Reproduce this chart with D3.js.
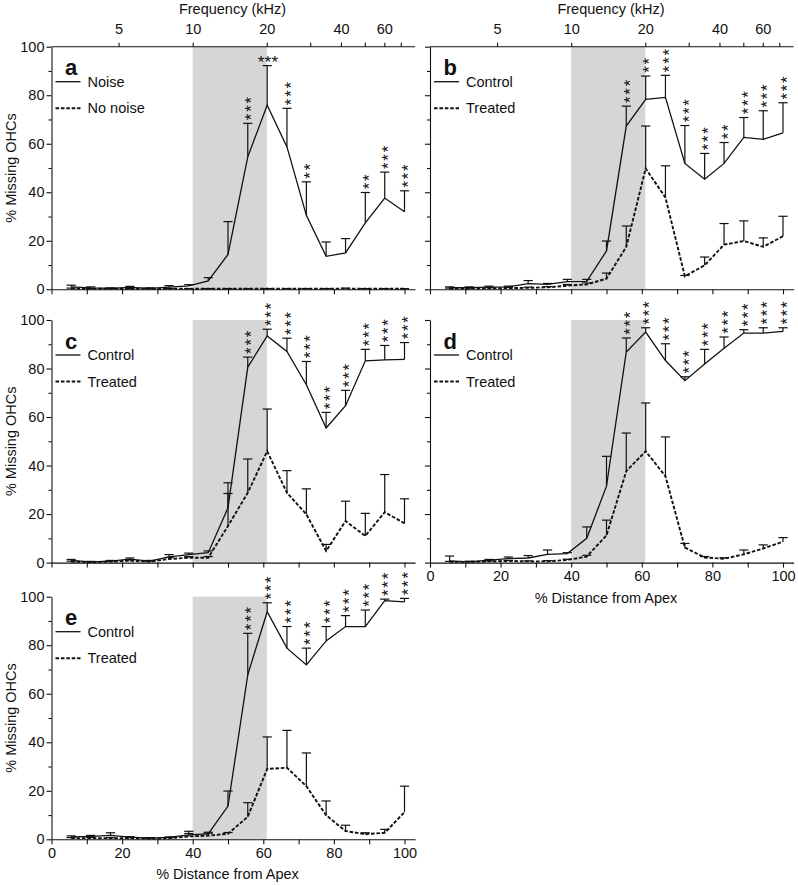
<!DOCTYPE html>
<html><head><meta charset="utf-8">
<script src="https://cdn.jsdelivr.net/npm/d3@7"></script>
<style>
body{margin:0;background:#fff}
svg{display:block}
text{font-family:"Liberation Sans",Arial,Helvetica,sans-serif;fill:#111}
</style>
</head><body><svg id="chart" width="798" height="886"></svg>
<script>
// ---------------- data ----------------
const distance = [5.56, 11.1, 16.7, 22.2, 27.8, 33.3, 38.9, 44.4, 50, 55.6, 61.1, 66.7, 72.2, 77.8, 83.3, 88.9, 94.4, 100];
const distTicks = [0, 10, 20, 30, 40, 50, 60, 70, 80, 90, 100];
const yMajorTicks = [0, 20, 40, 60, 80, 100];
const yMinorTicks = [10, 30, 50, 70, 90];
const freqTicks = [5, 10, 20, 30, 40, 50, 60, 70];
const freqLabels = ["5", "10", "20", "", "40", "", "60", ""];
const noiseBandKHz = [10, 20];
const freqAnchorKHz = [10, 20];        // known place-frequency points
const freqAnchorDist = [40, 61];       // % distance from apex at those points

// panel a
const aNoise      = [1.0, 0.6, 0.4, 0.8, 0.4, 0.9, 1.4, 3.5, 14.4, 54.6, 75.9, 58.7, 30.5, 13.6, 15.0, 27.4, 37.6, 32.0];
const aNoiseSem   = [0.7, 0.4, 0.2, 0.4, 0.2, 0.6, 0.5, 1.3, 13.5, 13.8, 16.3, 15.9, 13.8, 5.9, 5.9, 12.5, 10.7, 8.6];
const aNoNoise    = [0.3, 0.2, 0.2, 0.2, 0.2, 0.2, 0.2, 0.2, 0.2, 0.2, 0.2, 0.2, 0.2, 0.2, 0.3, 0.2, 0.2, 0.2];
const aNoNoiseSem = [0.2, 0.1, 0.1, 0.1, 0.1, 0.1, 0.1, 0.1, 0.1, 0.1, 0.1, 0.1, 0.1, 0.1, 0.2, 0.1, 0.1, 0.1];
const aStars      = [0, 0, 0, 0, 0, 0, 0, 0, 0, 3, 3, 3, 2, 0, 0, 2, 3, 3];
const aStarsRow   = [10];   // index whose stars are written in a row

// panel b
const bControl    = [0.7, 0.7, 0.9, 1.0, 2.3, 2.0, 3.2, 3.3, 15.8, 67.3, 78.3, 79.1, 51.9, 45.4, 51.9, 62.6, 61.8, 64.5];
const bControlSem = [0.3, 0.3, 0.4, 0.3, 1.3, 0.4, 0.9, 0.8, 4.1, 8.2, 9.6, 9.1, 15.6, 10.6, 8.6, 8.2, 11.8, 12.4];
const bTreated    = [0.3, 0.3, 0.4, 0.5, 0.6, 0.8, 1.5, 2.0, 4.4, 17.5, 49.8, 37.8, 5.4, 9.9, 18.4, 19.9, 17.5, 21.9];
const bTreatedSem = [0.2, 0.2, 0.3, 0.3, 0.3, 0.3, 0.5, 0.6, 2.3, 8.6, 17.5, 13.1, 0.3, 3.4, 8.7, 8.3, 3.7, 8.2];
const bStars      = [0, 0, 0, 0, 0, 0, 0, 0, 0, 3, 2, 3, 3, 3, 2, 3, 3, 3];

// panel c
const cControl    = [0.9, 0.3, 0.6, 1.4, 0.6, 2.4, 3.3, 4.1, 22.6, 80.6, 93.4, 87.0, 73.3, 55.5, 64.7, 83.2, 83.6, 83.8];
const cControlSem = [0.4, 0.2, 0.3, 0.5, 0.3, 0.9, 0.6, 0.7, 10.3, 4.1, 2.8, 5.5, 9.6, 6.4, 6.3, 4.7, 5.9, 6.9];
const cTreated    = [0.4, 0.2, 0.4, 0.8, 0.4, 1.5, 2.0, 2.0, 15.1, 28.8, 45.9, 28.8, 19.9, 4.8, 17.1, 11.0, 20.8, 16.2];
const cTreatedSem = [0.2, 0.2, 0.3, 0.4, 0.2, 0.6, 0.5, 0.5, 13.4, 13.9, 17.4, 9.1, 10.5, 2.7, 8.2, 9.3, 15.5, 10.1];
const cStars      = [0, 0, 0, 0, 0, 0, 0, 0, 0, 3, 3, 3, 3, 3, 3, 3, 3, 3];

// panel d
const dControl    = [0.7, 0.3, 1.0, 1.6, 1.9, 3.4, 3.7, 10.0, 31.5, 86.8, 95.0, 83.3, 75.0, 81.9, 88.4, 94.6, 94.6, 95.3];
const dControlSem = [2.0, 0.2, 0.3, 0.7, 1.0, 1.8, 0.4, 4.7, 12.3, 5.8, 1.8, 6.9, 1.6, 6.0, 4.6, 1.4, 2.2, 1.5];
const dTreated    = [0.3, 0.3, 0.5, 0.7, 0.5, 0.5, 1.1, 2.5, 11.2, 37.7, 45.9, 35.6, 6.2, 2.1, 1.6, 3.4, 5.8, 8.6];
const dTreatedSem = [0.2, 0.2, 0.2, 0.2, 0.2, 0.3, 0.3, 0.5, 6.3, 15.7, 19.9, 16.2, 1.7, 0.4, 0.4, 1.8, 1.5, 1.7];
const dStars      = [0, 0, 0, 0, 0, 0, 0, 0, 0, 3, 3, 3, 3, 3, 3, 3, 3, 3];

// panel e
const eControl    = [1.0, 1.2, 1.6, 0.9, 0.5, 0.8, 1.8, 2.2, 13.7, 67.8, 93.8, 78.8, 71.9, 81.8, 87.7, 87.7, 98.4, 97.9];
const eControlSem = [0.4, 0.4, 1.1, 0.2, 0.2, 0.2, 1.5, 0.7, 6.2, 17.1, 3.7, 8.9, 6.9, 5.9, 4.5, 6.8, 0.6, 1.4];
const eTreated    = [0.5, 0.5, 0.5, 0.5, 0.3, 0.4, 1.2, 1.5, 2.3, 9.3, 29.0, 29.5, 21.9, 9.9, 3.4, 2.1, 2.7, 11.2];
const eTreatedSem = [0.2, 0.3, 0.2, 0.2, 0.2, 0.3, 1.2, 1.0, 0.5, 5.8, 13.2, 15.4, 13.7, 5.9, 2.4, 0.6, 1.4, 10.7];
const eStars      = [0, 0, 0, 0, 0, 0, 0, 0, 0, 3, 3, 3, 3, 3, 3, 3, 3, 3];

// ---------------- layout ----------------
const svg = d3.select("#chart");
const FONT = 14.5;
const PXU = 3.53;         // pixels per % distance
const XMAX = 103;
const H = 242.6;
const STAR_FS = 17;
const STAR_STEP = 8.3;
const STAR_ADV = 0.389 * STAR_FS;
const STAR_LS = STAR_STEP - STAR_ADV;

const panels = [
  {id:"a", x0:51.5, top:46.7, s1:{name:"Noise", v:aNoise, e:aNoiseSem, stars:aStars, row:aStarsRow},
   s2:{name:"No noise", v:aNoNoise, e:aNoNoiseSem}, yLab:true, xLab:false, freq:true, yTitle:true},
  {id:"b", x0:430, top:46.7, s1:{name:"Control", v:bControl, e:bControlSem, stars:bStars, row:[]},
   s2:{name:"Treated", v:bTreated, e:bTreatedSem}, yLab:false, xLab:false, freq:true, yTitle:false},
  {id:"c", x0:51.5, top:320, s1:{name:"Control", v:cControl, e:cControlSem, stars:cStars, row:[]},
   s2:{name:"Treated", v:cTreated, e:cTreatedSem}, yLab:true, xLab:false, freq:false, yTitle:true},
  {id:"d", x0:430, top:320, s1:{name:"Control", v:dControl, e:dControlSem, stars:dStars, row:[]},
   s2:{name:"Treated", v:dTreated, e:dTreatedSem}, yLab:false, xLab:true, freq:false, yTitle:false},
  {id:"e", x0:51.5, top:596.7, s1:{name:"Control", v:eControl, e:eControlSem, stars:eStars, row:[]},
   s2:{name:"Treated", v:eTreated, e:eTreatedSem}, yLab:true, xLab:true, freq:false, yTitle:true}
];

function styleAxis(g){
  g.attr("font-size", FONT).attr("font-family", '"Liberation Sans",Arial,Helvetica,sans-serif');
  g.selectAll("line").attr("stroke", "#111").attr("stroke-width", 1.1);
  g.selectAll("path").attr("stroke", "#111").attr("stroke-width", 1.1);
  g.selectAll("text").attr("fill", "#111");
}

panels.forEach(p => {
  const x = d3.scaleLinear().domain([0, XMAX]).range([p.x0, p.x0 + XMAX * PXU]);
  const y = d3.scaleLinear().domain([0, 100]).range([p.top + H, p.top]);
  const fToDist = d3.scaleLog().domain(freqAnchorKHz).range(freqAnchorDist);
  const g = svg.append("g");

  // noise band shading
  g.append("rect")
    .attr("x", x(fToDist(noiseBandKHz[0])))
    .attr("y", y(100))
    .attr("width", x(fToDist(noiseBandKHz[1])) - x(fToDist(noiseBandKHz[0])))
    .attr("height", y(0) - y(100))
    .attr("fill", "#d6d6d6");

  const data1 = distance.map((d, i) => ({d, v: p.s1.v[i], e: p.s1.e[i], s: p.s1.stars[i], i}));
  const data2 = distance.map((d, i) => ({d, v: p.s2.v[i], e: p.s2.e[i], i}));

  const line = d3.line().x(d => x(d.d)).y(d => y(d.v));

  // error bars (upward) for both series
  [data2, data1].forEach(data => {
    const eb = g.append("g").attr("stroke", "#111").attr("stroke-width", 1.2).attr("fill", "none");
    eb.selectAll("line.v").data(data).join("line")
      .attr("x1", d => x(d.d)).attr("x2", d => x(d.d))
      .attr("y1", d => y(d.v)).attr("y2", d => y(d.v + d.e));
    eb.selectAll("line.c").data(data).join("line")
      .attr("x1", d => x(d.d) - 4.6).attr("x2", d => x(d.d) + 4.6)
      .attr("y1", d => y(d.v + d.e)).attr("y2", d => y(d.v + d.e));
  });

  g.append("path").datum(data2).attr("d", line)
    .attr("fill", "none").attr("stroke", "#111").attr("stroke-width", 1.9)
    .attr("stroke-dasharray", "3.6,1.8");
  g.append("path").datum(data1).attr("d", line)
    .attr("fill", "none").attr("stroke", "#111").attr("stroke-width", 1.3);

  // significance stars
  data1.filter(d => d.s > 0).forEach(d => {
    const cx = x(d.d), capY = y(d.v + d.e);
    const starText = "*".repeat(d.s);
    if (p.s1.row.includes(d.i)) {
      const cy = capY - 7;
      g.append("text").attr("x", cx + STAR_LS / 2).attr("y", cy + 0.57 * STAR_FS)
        .attr("text-anchor", "middle").attr("font-size", STAR_FS)
        .attr("letter-spacing", (STAR_LS - 1.5) + "px")
        .text(starText);
    } else {
      const cy = capY - 6.5 - (d.s - 1) * STAR_STEP / 2;
      g.append("text")
        .attr("transform", `translate(${cx},${cy}) rotate(-90)`)
        .attr("x", STAR_LS / 2).attr("y", 0.57 * STAR_FS)
        .attr("text-anchor", "middle").attr("font-size", STAR_FS)
        .attr("letter-spacing", STAR_LS + "px")
        .text(starText);
    }
  });

  // axes
  const yMaj = g.append("g").attr("transform", `translate(${p.x0},0)`)
    .call(d3.axisLeft(y).tickValues(yMajorTicks).tickSize(5).tickSizeOuter(0).tickPadding(2)
      .tickFormat(d => p.yLab ? d : ""));
  styleAxis(yMaj);
  const yMin = g.append("g").attr("transform", `translate(${p.x0},0)`)
    .call(d3.axisLeft(y).tickValues(yMinorTicks).tickSize(3).tickSizeOuter(0).tickFormat(""));
  styleAxis(yMin);
  yMin.select(".domain").remove();

  const xAx = g.append("g").attr("transform", `translate(0,${y(0)})`)
    .call(d3.axisBottom(x).tickValues(distTicks).tickSize(5).tickSizeOuter(0).tickPadding(3)
      .tickFormat(d => (p.xLab && d % 20 === 0) ? d : ""));
  styleAxis(xAx);

  if (p.freq) {
    const fx = d3.scaleLog().domain(freqAnchorKHz).range(freqAnchorDist.map(x));
    const tAx = g.append("g").attr("transform", `translate(0,${y(100)})`)
      .call(d3.axisTop(fx).tickValues(freqTicks).tickSize(4).tickSizeOuter(0).tickPadding(9)
        .tickFormat((d, i) => freqLabels[i]));
    tAx.select(".domain").remove();
    styleAxis(tAx);
    g.append("line").attr("x1", p.x0).attr("x2", x(XMAX)).attr("y1", y(100)).attr("y2", y(100))
      .attr("stroke", "#111").attr("stroke-width", 1.1);
    g.append("text").attr("x", p.x0 + 181).attr("y", 13.5).attr("text-anchor", "middle")
      .attr("font-size", FONT).text("Frequency (kHz)");
  }

  if (p.xLab) {
    g.append("text").attr("x", p.x0 + 176).attr("y", y(0) + 40).attr("text-anchor", "middle")
      .attr("font-size", FONT).text("% Distance from Apex");
  }
  if (p.yTitle) {
    g.append("text").attr("transform", `translate(15.5,${(y(0) + y(100)) / 2}) rotate(-90)`)
      .attr("text-anchor", "middle").attr("font-size", FONT).text("% Missing OHCs");
  }

  // panel letter + legend
  g.append("text").attr("x", p.x0 + 13.5).attr("y", p.top + 28.5)
    .attr("font-size", 22).attr("font-weight", "bold").text(p.id);
  const ly1 = p.top + 35, ly2 = p.top + 61.5;
  g.append("line").attr("x1", p.x0 + 4).attr("x2", p.x0 + 29).attr("y1", ly1).attr("y2", ly1)
    .attr("stroke", "#111").attr("stroke-width", 1.3);
  g.append("line").attr("x1", p.x0 + 4).attr("x2", p.x0 + 29).attr("y1", ly2).attr("y2", ly2)
    .attr("stroke", "#111").attr("stroke-width", 1.9).attr("stroke-dasharray", "3.6,1.8");
  g.append("text").attr("x", p.x0 + 36).attr("y", ly1 + 5).attr("font-size", FONT).text(p.s1.name);
  g.append("text").attr("x", p.x0 + 36).attr("y", ly2 + 5).attr("font-size", FONT).text(p.s2.name);
});
</script>
</body></html>
